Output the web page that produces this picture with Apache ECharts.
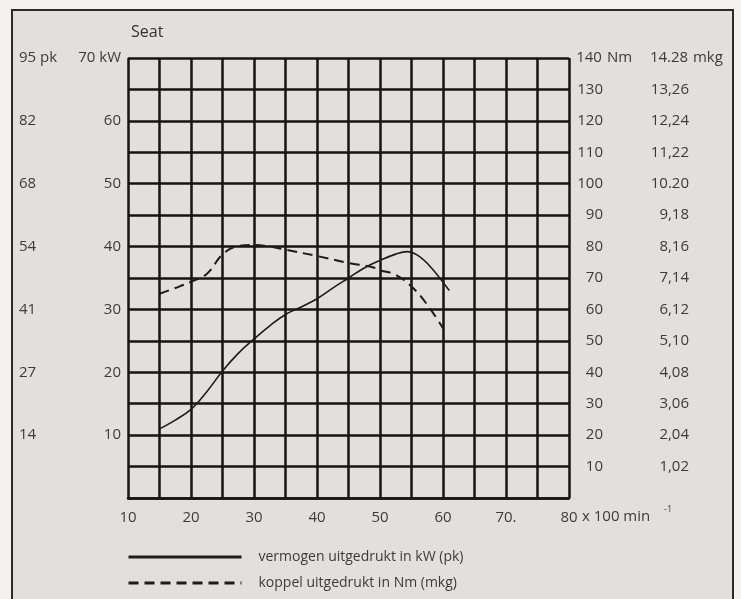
<!DOCTYPE html>
<html>
<head>
<meta charset="utf-8">
<script src="https://cdn.jsdelivr.net/npm/echarts@6/dist/echarts.min.js"></script>
<style>
html,body{margin:0;padding:0;background:#f4f2ef;}
#c{width:741px;height:599px;}
</style>
</head>
<body>
<div id="c"></div>
<script>
// Data (rpm in units of 100 min^-1)
var powerRpm = [15, 17.5, 20, 22.5, 25, 27.5, 30, 32.5, 35, 37.5, 40, 42.5, 45, 47.5, 50, 52.5, 54.3, 56, 58, 61];
var powerKW  = [11, 12.4, 14.1, 16.9, 20.2, 23, 25.3, 27.4, 29.2, 30.4, 31.7, 33.4, 35, 36.6, 37.8, 38.8, 39.2, 38.6, 36.8, 33];
var torqueRpm = [15, 17.5, 20, 22.5, 25, 27.2, 30, 32.5, 35, 40, 45, 48.7, 50, 52.5, 55, 57.5, 60];
var torqueNm  = [65, 66.8, 68.8, 71.3, 77.5, 80, 80.5, 80, 79, 77, 74.8, 73.5, 72.5, 71, 67.3, 61.5, 54];
var xLabels = {10: '10', 20: '20', 30: '30', 40: '40', 50: '50', 60: '60', 70: '70.', 80: '80'};
var kWLabels = ['', '10', '20', '30', '40', '50', '60', '70 kW'];
var pkLabels = ['', '14', '27', '41', '54', '68', '82', '95 pk'];
var NmLabels = ['', '10', '20', '30', '40', '50', '60', '70', '80', '90', '100', '110', '120', '130', '140'];
var mkgLabels = ['', '1,02', '2,04', '3,06', '4,08', '5,10', '6,12', '7,14', '8,16', '9,18', '10.20', '11,22', '12,24', '13,26', '14.28'];
var seriesNames = ['vermogen uitgedrukt in kW (pk)', 'koppel uitgedrukt in Nm (mkg)'];

var FONT = 'Open Sans';
var TXT = '#3d3b3a';
var INK = '#151515';

function pairs(xs, ys) { return xs.map(function (x, i) { return [x, ys[i]]; }); }

var chart = echarts.init(document.getElementById('c'));
chart.setOption({
  animation: false,
  backgroundColor: 'transparent',
  textStyle: {fontFamily: FONT},
  title: {
    text: 'Seat', left: 126, top: 19,
    textStyle: {fontFamily: FONT, fontSize: 16, fontWeight: 'normal', color: '#333'}
  },
  graphic: [
    {type: 'rect', z: -10, shape: {x: 12, y: 10, width: 721, height: 620},
     style: {fill: '#e2dfdc', stroke: '#2b2b2b', lineWidth: 2}},
    {type: 'text', left: 582, top: 509, style: {text: 'x 100 min', fontFamily: FONT, fontSize: 15, fill: TXT}},
    {type: 'text', left: 664, top: 505, style: {text: '-1', fontFamily: FONT, fontSize: 9, fill: TXT}}
  ],
  legend: {
    orient: 'vertical', left: 122, top: 545, itemWidth: 113, itemHeight: 14, itemGap: 12,
    itemStyle: {opacity: 0},
    textStyle: {fontFamily: FONT, fontSize: 14, color: TXT, padding: [0, 0, 0, 12]},
    data: [
      {name: seriesNames[0], lineStyle: {width: 3}},
      {name: seriesNames[1], lineStyle: {width: 3}}
    ]
  },
  grid: {left: 128, right: 172, top: 58, bottom: 101, containLabel: false},
  xAxis: {
    type: 'value', min: 10, max: 80, interval: 5,
    axisLine: {show: true, onZero: false, lineStyle: {color: INK, width: 2.5}},
    axisTick: {show: false},
    splitLine: {show: true, lineStyle: {color: INK, width: 2.5}},
    axisLabel: {
      margin: 12, fontSize: 15, color: TXT, fontFamily: FONT,
      formatter: function (v) { return xLabels[v] || ''; }
    }
  },
  yAxis: [
    { // kW
      type: 'value', position: 'left', min: 0, max: 70, interval: 10,
      axisLine: {show: false}, axisTick: {show: false}, splitLine: {show: false},
      axisLabel: {margin: 7, fontSize: 15, color: TXT, fontFamily: FONT,
        formatter: function (v) { return kWLabels[Math.round(v / 10)]; }}
    },
    { // Nm
      type: 'value', position: 'right', min: 0, max: 140, interval: 10,
      axisLine: {show: false}, axisTick: {show: false},
      splitLine: {show: true, lineStyle: {color: INK, width: 2.5}},
      axisLabel: {margin: 6, align: 'left', fontSize: 15, color: TXT, fontFamily: FONT,
        formatter: function (v) {
          var i = Math.round(v / 10);
          if (!NmLabels[i]) return '';
          return '{n|' + NmLabels[i] + '}' + (i === 14 ? '{u| Nm}' : '');
        },
        rich: {
          n: {width: 28, align: 'right', fontSize: 15, color: TXT, fontFamily: FONT},
          u: {fontSize: 15, color: TXT, fontFamily: FONT}
        }}
    },
    { // pk
      type: 'value', position: 'left', min: 0, max: 70, interval: 10,
      axisLine: {show: false}, axisTick: {show: false}, splitLine: {show: false},
      axisLabel: {margin: 109, align: 'left', fontSize: 15, color: TXT, fontFamily: FONT,
        formatter: function (v) { return pkLabels[Math.round(v / 10)]; }}
    },
    { // mkg
      type: 'value', position: 'right', min: 0, max: 140, interval: 10,
      axisLine: {show: false}, axisTick: {show: false}, splitLine: {show: false},
      axisLabel: {margin: 80, align: 'left', fontSize: 15, color: TXT, fontFamily: FONT,
        formatter: function (v) {
          var i = Math.round(v / 10);
          if (!mkgLabels[i]) return '';
          return '{n|' + mkgLabels[i] + '}' + (i === 14 ? '{u| mkg}' : '');
        },
        rich: {
          n: {width: 40, align: 'right', fontSize: 15, color: TXT, fontFamily: FONT},
          u: {fontSize: 15, color: TXT, fontFamily: FONT}
        }}
    }
  ],
  series: [
    {
      name: seriesNames[0], type: 'line', yAxisIndex: 0, smooth: 0.4,
      symbol: 'none', z: 5,
      lineStyle: {color: '#1c1c1c', width: 1.6, type: 'solid'},
      itemStyle: {color: '#1c1c1c'},
      data: pairs(powerRpm, powerKW)
    },
    {
      name: seriesNames[1], type: 'line', yAxisIndex: 1, smooth: 0.4,
      symbol: 'none', z: 5,
      lineStyle: {color: '#1c1c1c', width: 2, type: [10, 6]},
      itemStyle: {color: '#1c1c1c'},
      data: pairs(torqueRpm, torqueNm)
    }
  ]
});
</script>
</body>
</html>
